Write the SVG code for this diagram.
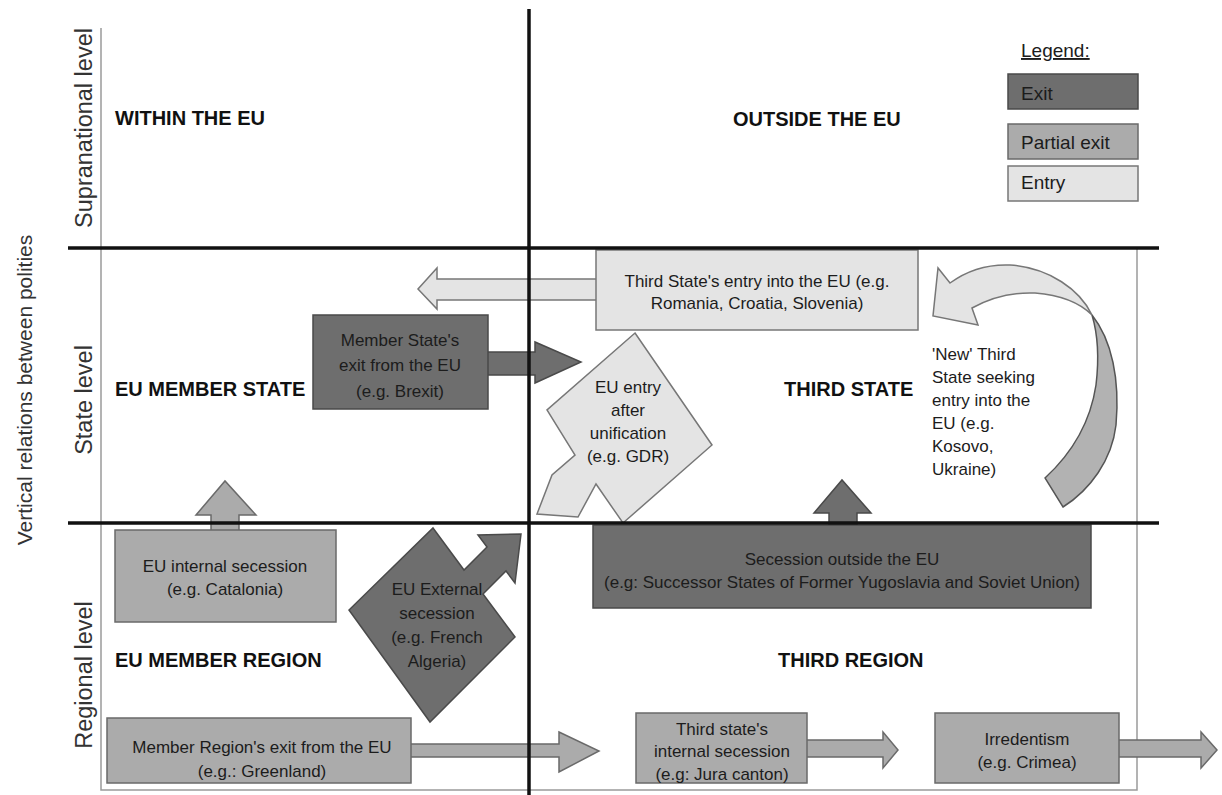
<svg xmlns="http://www.w3.org/2000/svg" width="1222" height="795" viewBox="0 0 1222 795">
<style>
.exit{fill:#6e6e6e;stroke:#4a4a4a;stroke-width:1.5}
.partial{fill:#ababab;stroke:#6a6a6a;stroke-width:1.5}
.entry{fill:#e4e4e4;stroke:#777;stroke-width:1.5}
.back{fill:#b2b2b2;stroke:#555;stroke-width:1.5}
text{font-family:"Liberation Sans",Arial,sans-serif;fill:#1c1c1c}
.t{font-size:17px;text-anchor:middle}
.tl{font-size:17px}
.title{font-size:20px;font-weight:bold;fill:#111}
.lvl{font-size:23.5px;text-anchor:middle;fill:#333}
.leg{font-size:19px}
.frame{stroke:#9a9a9a;stroke-width:1.5;fill:none}
.axis{stroke:#111;stroke-width:3.5;fill:none}
</style>
<rect width="1222" height="795" fill="#fff"/>

<g id="frame">
<path class="frame" d="M101,28 V790 H1137 V248"/>
</g>

<g id="labels">
<text class="lvl" transform="translate(32,390) rotate(-90)" style="font-size:21px">Vertical relations between polities</text>
<text class="lvl" transform="translate(92,128) rotate(-90)">Supranational level</text>
<text class="lvl" transform="translate(92,400) rotate(-90)">State level</text>
<text class="lvl" transform="translate(92,675) rotate(-90)">Regional level</text>
<text class="title" x="115" y="125">WITHIN THE EU</text>
<text class="title" x="733" y="126">OUTSIDE THE EU</text>
<text class="title" x="115" y="396">EU MEMBER STATE</text>
<text class="title" x="784" y="396">THIRD STATE</text>
<text class="title" x="115" y="667">EU MEMBER REGION</text>
<text class="title" x="778" y="667">THIRD REGION</text>
</g>

<g id="legend">
<text class="leg" x="1021" y="57" text-decoration="underline">Legend:</text>
<rect class="exit" x="1008" y="74" width="130" height="35"/>
<text class="leg" x="1021" y="100">Exit</text>
<rect class="partial" x="1008" y="124" width="130" height="35"/>
<text class="leg" x="1021" y="149">Partial exit</text>
<rect class="entry" x="1008" y="166" width="130" height="35"/>
<text class="leg" x="1021" y="189">Entry</text>
</g>

<g id="connectors">
<polygon class="entry" points="600,279 437,279 437,268 418,289 437,309 437,300 600,300"/>
<polygon class="exit" points="484,352 535,352 535,342 581,362 535,383 535,375 484,375"/>
<polygon class="partial" points="211,534 211,515 196,515 225,481 256,515 239,515 239,534"/>
<polygon class="exit" points="829,529 829,513 814,513 842,480 871,513 857,513 857,529"/>
<polygon class="partial" points="407,744 559,744 559,732 599,751 559,772 559,757 407,757"/>
<polygon class="partial" points="803,740 883,740 883,732 898,750 883,768 883,757 803,757"/>
<polygon class="partial" points="1115,740 1201,740 1201,732 1217,750 1201,768 1201,757 1115,757"/>
<path class="entry" d="M1092,315 C1080,290 1050,268 1010,265 C985,264 965,272 950,283 L938,268 L933,316 L978,325 L972,308 C990,298 1010,292 1035,293 C1060,295 1080,303 1092,315 Z"/>
<path class="back" d="M1092,315 C1112,340 1120,380 1116,425 C1112,460 1090,490 1063,507 L1045,478 C1070,455 1090,425 1096,385 C1099,360 1098,335 1092,315 Z"/>
</g>

<g id="third-state-entry">
<rect class="entry" x="596" y="250" width="322" height="80"/>
<text class="t" x="757" y="287">Third State's entry into the EU (e.g.</text>
<text class="t" x="757" y="309">Romania, Croatia, Slovenia)</text>
</g>

<g id="member-state-exit">
<rect class="exit" x="313" y="315" width="175" height="94"/>
<text class="t" x="400" y="346">Member State's</text>
<text class="t" x="400" y="371">exit from the EU</text>
<text class="t" x="400" y="397">(e.g. Brexit)</text>
</g>

<g id="eu-entry-unification">
<polygon class="entry" points="635,333 712,445 623,523 596,484 578,517 537,514 552,475 575,455 547,410"/>
<text class="t" x="628" y="393">EU entry</text>
<text class="t" x="628" y="416">after</text>
<text class="t" x="628" y="439">unification</text>
<text class="t" x="628" y="462">(e.g. GDR)</text>
</g>

<g id="new-third-state">
<text class="tl" x="932" y="360">'New' Third</text>
<text class="tl" x="932" y="383">State seeking</text>
<text class="tl" x="932" y="406">entry into the</text>
<text class="tl" x="932" y="429">EU (e.g.</text>
<text class="tl" x="932" y="452">Kosovo,</text>
<text class="tl" x="932" y="475">Ukraine)</text>
</g>

<g id="eu-internal-secession">
<rect class="partial" x="115" y="530" width="221" height="92"/>
<text class="t" x="225" y="572">EU internal secession</text>
<text class="t" x="225" y="595">(e.g. Catalonia)</text>
</g>

<g id="eu-external-secession">
<polygon class="exit" points="433,528 464,570 487,547 478,535 521,534 515,583 506,571 483,594 515,637 430,722 349,610"/>
<text class="t" x="437" y="595">EU External</text>
<text class="t" x="437" y="619">secession</text>
<text class="t" x="437" y="643">(e.g. French</text>
<text class="t" x="437" y="667">Algeria)</text>
</g>

<g id="secession-outside">
<rect class="exit" x="593" y="525" width="498" height="83"/>
<text class="t" x="842" y="565">Secession outside the EU</text>
<text class="t" x="842" y="588">(e.g: Successor States of Former Yugoslavia and Soviet Union)</text>
</g>

<g id="member-region-exit">
<rect class="partial" x="107" y="718" width="304" height="65"/>
<text class="t" x="262" y="753">Member Region's exit from the EU</text>
<text class="t" x="262" y="777">(e.g.: Greenland)</text>
</g>

<g id="third-state-internal">
<rect class="partial" x="636" y="713" width="171" height="70"/>
<text class="t" x="722" y="735">Third state's</text>
<text class="t" x="722" y="757">internal secession</text>
<text class="t" x="722" y="780">(e.g: Jura canton)</text>
</g>

<g id="irredentism">
<rect class="partial" x="935" y="713" width="184" height="70"/>
<text class="t" x="1027" y="745">Irredentism</text>
<text class="t" x="1027" y="768">(e.g. Crimea)</text>
</g>

<g id="axes">
<line class="axis" x1="68" y1="248" x2="1159" y2="248"/>
<line class="axis" x1="68" y1="523" x2="1159" y2="523"/>
<line class="axis" x1="529" y1="9" x2="529" y2="795"/>
</g>
</svg>
